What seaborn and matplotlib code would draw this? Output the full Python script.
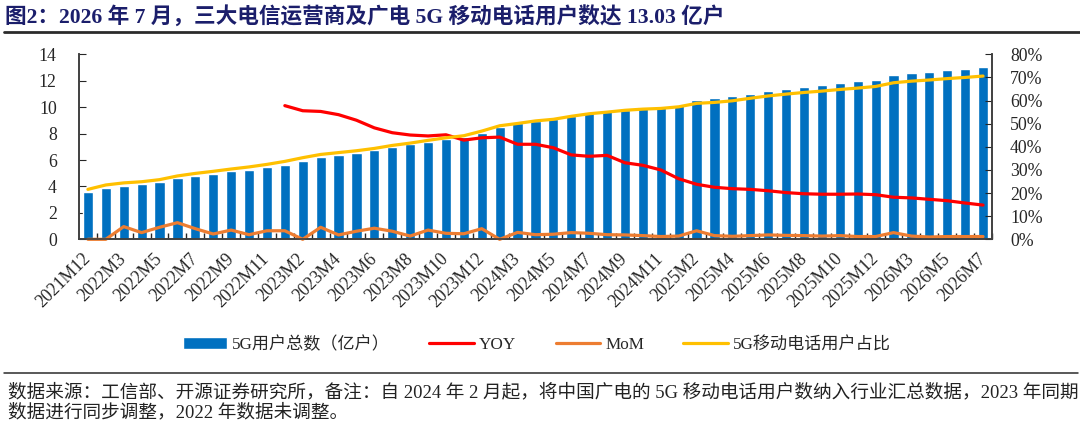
import numpy as np
import pandas as pd
import seaborn as sns
import matplotlib.pyplot as plt
from matplotlib.lines import Line2D

# months (Jan merged into Feb each year)
months = ["2021M12"] + [f"{y}M{m}" for y in (2022, 2023, 2024, 2025) for m in range(2, 13)] \
         + [f"2026M{m}" for m in range(2, 8)]

# 5G users total (亿户)
users = [3.58, 3.86, 4.04, 4.16, 4.34, 4.64, 4.82, 4.96, 5.14, 5.27, 5.45, 5.65,
         5.95, 6.22, 6.35, 6.53, 6.79, 7.02, 7.19, 7.39, 7.62, 7.75, 8.03,
         8.53, 8.78, 8.96, 9.09, 9.31, 9.54, 9.69, 9.82, 10.00, 10.05, 10.17,
         10.54, 10.73, 10.83, 11.03, 11.21, 11.41, 11.56, 11.71, 11.86, 11.97, 12.09,
         12.42, 12.57, 12.65, 12.80, 12.90, 13.03]

# YOY (%), starts 2022M12
yoy = [np.nan] * 11 + [57.8, 55.6, 55.3, 53.9, 51.5, 48.2, 46.1, 45.1, 44.7, 45.2,
                       42.9, 43.9, 44.2, 41.1, 41.1, 39.6, 36.5, 35.9, 36.3, 33.1,
                       32.0, 30.0, 26.2, 23.8, 22.5, 21.9, 21.6, 21.0, 20.2, 19.7,
                       19.5, 19.5, 19.6, 19.3, 18.2, 17.9, 17.3, 16.7, 15.7, 14.8]

# MoM (%)
mom = [0, 0, 5.5, 2.9, 5.2, 7.2, 4.6, 2.3, 4.0, 2.0, 3.7, 3.7,
       0, 5.2, 1.9, 3.5, 4.8, 3.5, 1.4, 4.0, 2.6, 2.4, 4.6,
       0, 3.0, 2.0, 2.2, 2.9, 2.6, 2.0, 1.9, 1.6, 1.2, 1.4,
       3.7, 1.6, 1.3, 1.6, 1.9, 1.7, 1.6, 1.4, 1.6, 1.2, 1.2,
       2.9, 1.4, 1.0, 1.2, 1.2, 1.2]

# 5G移动电话用户占比 (%)
share = [21.6, 23.5, 24.4, 24.9, 25.8, 27.4, 28.5, 29.4, 30.4, 31.3, 32.4, 33.7,
         35.3, 36.7, 37.5, 38.3, 39.3, 40.6, 41.6, 42.8, 43.9, 44.8, 46.8,
         49.1, 50.1, 51.2, 51.9, 53.2, 54.3, 55.0, 55.8, 56.3, 56.6, 57.3,
         58.8, 59.2, 59.9, 61.0, 62.0, 62.8, 63.5, 64.1, 64.8, 65.4, 66.1,
         67.7, 68.4, 68.9, 69.5, 70.0, 70.6]

df = pd.DataFrame({"month": months, "users": users, "yoy": yoy, "mom": mom, "share": share})
df["pos"] = np.arange(len(df))

sns.set_style("ticks")
plt.rcParams['font.family'] = ['Liberation Serif', 'Noto Sans CJK SC']
plt.rcParams['axes.unicode_minus'] = False

fig = plt.figure(figsize=(10.8, 4.25), dpi=100)
ax = fig.add_axes([0.0731, 0.4369, 0.8454, 0.4353])

sns.barplot(data=df, x="month", y="users", order=months, color="#0070C0",
            saturation=1, width=0.57, ax=ax, label="5G用户总数（亿户）")
ax2 = ax.twinx()
sns.lineplot(data=df, x="pos", y="yoy", color="#FF0000", lw=2.3, ax=ax2, label="YOY")
sns.lineplot(data=df, x="pos", y="mom", color="#ED7D31", lw=2.3, ax=ax2, label="MoM", clip_on=False)
sns.lineplot(data=df, x="pos", y="share", color="#FFC000", lw=2.3, ax=ax2, label="5G移动电话用户占比")

for a in (ax, ax2):
    if a.get_legend() is not None:
        a.get_legend().remove()

ax.set_xlim(-0.5, len(months) - 0.5)
ax.set_ylim(0, 14)
ax.set_yticks(range(0, 15, 2))
ax2.set_ylim(0, 80)
ax2.set_yticks(range(0, 81, 10))
ax2.set_yticklabels([f"{v}%" for v in range(0, 81, 10)])

ax.set_xticks(df["pos"][::2])
ax.set_xticklabels(months[::2], rotation=45, ha="right", va="center", rotation_mode="anchor")
ax.set_xticks(df["pos"] + 0.5, minor=True)
ax.tick_params(axis="x", which="major", length=0, labelsize=12.8, pad=12)
ax.tick_params(axis="x", which="minor", direction="in", length=4, width=1)
ax.tick_params(axis="y", direction="in", length=5, labelsize=12.8, pad=16)
ax2.tick_params(axis="y", direction="in", length=5, labelsize=12.8, pad=13)
ax.set_xlabel("")
ax.set_ylabel("")
ax2.set_ylabel("")
for a in (ax, ax2):
    a.spines["top"].set_visible(False)
    for s in ("left", "right", "bottom"):
        a.spines[s].set_color("#404040")
        a.spines[s].set_linewidth(1.2)

h1, l1 = ax.get_legend_handles_labels()
h2, l2 = ax2.get_legend_handles_labels()
fig.legend(h1 + h2, l1 + l2, loc="center", bbox_to_anchor=(0.497, 0.188), ncol=4,
           frameon=False, fontsize=12.3, handlelength=2.6, columnspacing=2.3, handletextpad=0.3)

title = "图2：2026 年 7 月，三大电信运营商及广电 5G 移动电话用户数达 13.03 亿户"
fig.text(0.005, 1 - 17 / 425, title, fontsize=15.6, weight="bold", color="#1B1E6B", va="center")
fig.add_artist(Line2D([0.004, 1.0], [1 - 31.5 / 425] * 2, color="#2b2b2b", lw=2))
fig.add_artist(Line2D([0.004, 0.998], [1 - 373 / 425] * 2, color="#2b2b2b", lw=1.1))

note1 = "数据来源：工信部、开源证券研究所，备注：自 2024 年 2 月起，将中国广电的 5G 移动电话用户数纳入行业汇总数据，2023 年同期"
note2 = "数据进行同步调整，2022 年数据未调整。"
fig.text(0.007, 1 - 392 / 425, note1, fontsize=13.4, va="center", color="#222222")
fig.text(0.007, 1 - 412 / 425, note2, fontsize=13.4, va="center", color="#222222")

fig.savefig("out.png", dpi=100)
